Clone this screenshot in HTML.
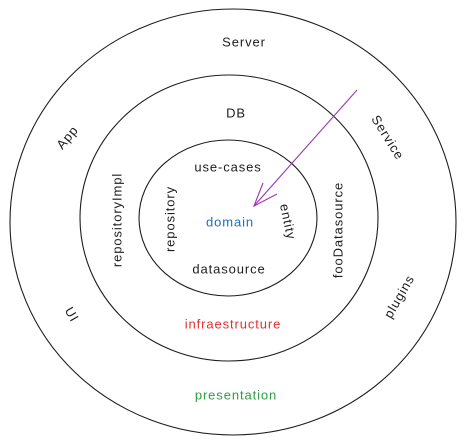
<!DOCTYPE html>
<html><head><meta charset="utf-8"><style>
html,body{margin:0;padding:0;background:#fff;width:465px;height:444px;overflow:hidden}
text{font-family:"Liberation Sans",sans-serif;font-size:13px;letter-spacing:0.9px;fill:#1e1e1e;text-anchor:middle;dominant-baseline:middle}
</style></head><body>
<svg width="465" height="444" viewBox="0 0 465 444" xmlns="http://www.w3.org/2000/svg">
<g fill="none" stroke="#1e1e1e" stroke-width="1.1">
<ellipse cx="233" cy="222" rx="223" ry="213"/>
<ellipse cx="229" cy="218" rx="149" ry="143"/>
<ellipse cx="228" cy="218" rx="89" ry="78"/>
</g>
<g stroke="#9c36b5" stroke-width="1.1" fill="none">
<line x1="357" y1="90" x2="254" y2="206"/>
<polyline points="263,183 254,206 277,194"/>
</g>
<text x="244" y="43">Server</text>
<text x="236" y="114" font-size="14">DB</text>
<text x="68" y="138" transform="rotate(-50 68 138)">App</text>
<text x="387" y="138" transform="rotate(58 387 138)">Service</text>
<text x="228" y="168">use-cases</text>
<text x="171" y="219" transform="rotate(-90 171 219)">repository</text>
<text x="287" y="222" transform="rotate(78 287 222)">entity</text>
<text x="230" y="223" style="fill:#1971c2">domain</text>
<text x="229" y="270">datasource</text>
<text x="118" y="220" transform="rotate(-90 118 220)">repositoryImpl</text>
<text x="339" y="230" transform="rotate(-90 339 230)">fooDatasource</text>
<text x="71" y="315" transform="rotate(60 71 315)">UI</text>
<text x="400" y="297" transform="rotate(-60 400 297)">plugins</text>
<text x="233" y="325" style="fill:#e03131">infraestructure</text>
<text x="236" y="396" style="fill:#2f9e44">presentation</text>
</svg>
</body></html>
